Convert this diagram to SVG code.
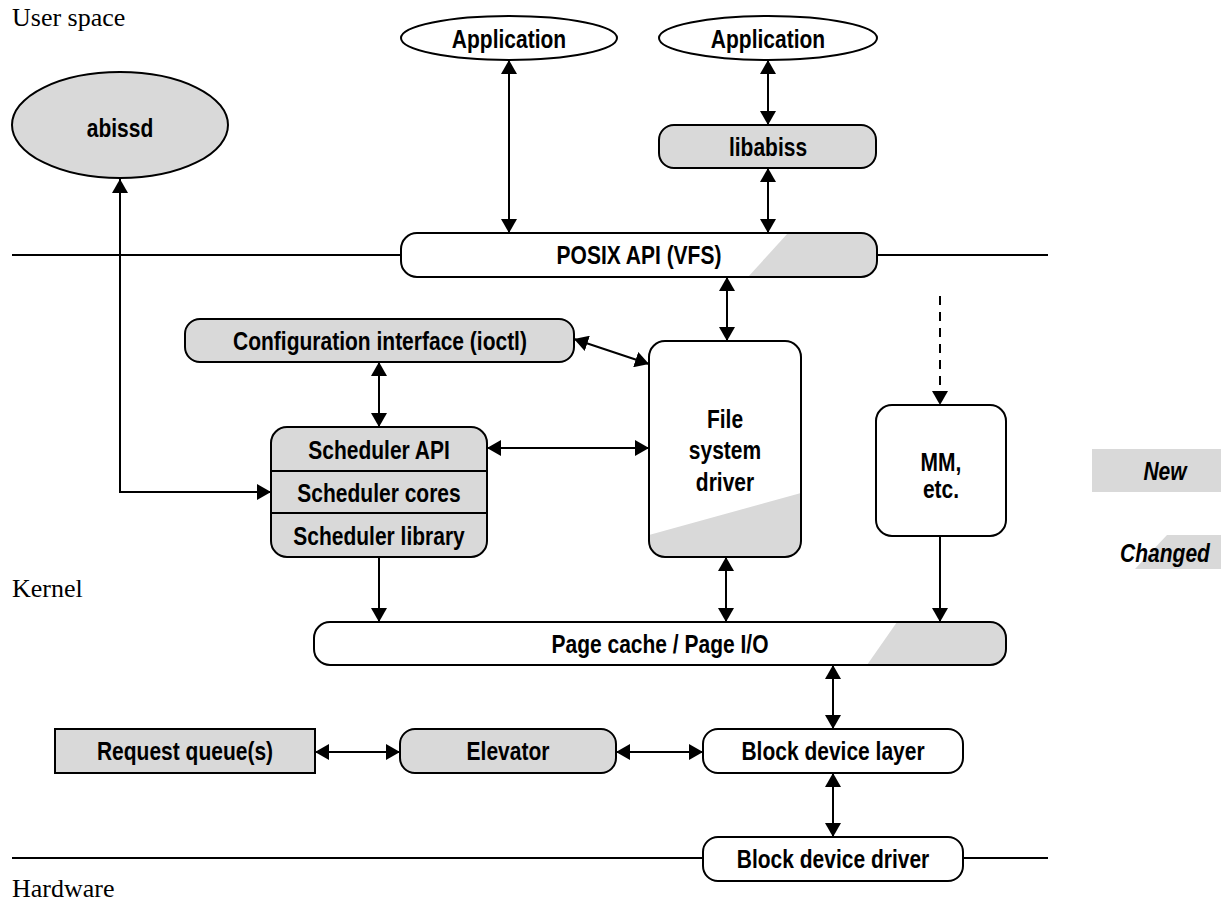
<svg xmlns="http://www.w3.org/2000/svg" width="1221" height="909" viewBox="0 0 1221 909">
<style>
.bx{stroke:#000;stroke-width:2;}
.w{fill:#fff;}
.g{fill:#d9d9d9;}
.t{font-family:"Liberation Sans",Arial,sans-serif;font-weight:bold;font-size:25px;text-anchor:middle;fill:#000;}
.ti{font-family:"Liberation Sans",Arial,sans-serif;font-weight:bold;font-style:italic;font-size:25px;text-anchor:middle;fill:#000;}
.s{font-family:"Liberation Serif","Times New Roman",serif;font-size:26px;fill:#000;}
.c{fill:none;stroke:#000;stroke-width:2;}
.sep{fill:none;stroke:#000;stroke-width:2;}
</style>
<defs>
<marker id="ah" viewBox="0 0 14 16" refX="14" refY="8" markerWidth="14" markerHeight="16" markerUnits="userSpaceOnUse" orient="auto-start-reverse">
<path d="M0,0 L14,8 L0,16 z" fill="#000"/>
</marker>
<clipPath id="cpPosix"><rect x="401" y="233" width="476" height="44" rx="16"/></clipPath>
<clipPath id="cpFs"><rect x="649" y="341" width="152" height="216" rx="16"/></clipPath>
<clipPath id="cpPage"><rect x="314" y="622" width="692" height="43" rx="16"/></clipPath>
</defs>

<!-- region labels and separators -->
<text class="s" x="12" y="26">User space</text>
<text class="s" x="12" y="597">Kernel</text>
<text class="s" x="12" y="897">Hardware</text>
<path class="sep" d="M12,255 H401 M877,255 H1048 M12,858 H703 M963,858 H1048"/>

<g id="connectors">
<path class="c" d="M120,179 V492 H271" marker-start="url(#ah)" marker-end="url(#ah)"/>
<path class="c" d="M509,60 V233" marker-start="url(#ah)" marker-end="url(#ah)"/>
<path class="c" d="M768,60 V125" marker-start="url(#ah)" marker-end="url(#ah)"/>
<path class="c" d="M768,168 V233" marker-start="url(#ah)" marker-end="url(#ah)"/>
<path class="c" d="M727,277 V341" marker-start="url(#ah)" marker-end="url(#ah)"/>
<path class="c" d="M574,339 L649,364" marker-start="url(#ah)" marker-end="url(#ah)"/>
<path class="c" d="M379,362 V427" marker-start="url(#ah)" marker-end="url(#ah)"/>
<path class="c" d="M487,448 H649" marker-start="url(#ah)" marker-end="url(#ah)"/>
<path class="c" d="M940,296 V405" stroke-dasharray="9,7" marker-end="url(#ah)"/>
<path class="c" d="M379,557 V622" marker-end="url(#ah)"/>
<path class="c" d="M726,557 V622" marker-start="url(#ah)" marker-end="url(#ah)"/>
<path class="c" d="M940,536 V622" marker-end="url(#ah)"/>
<path class="c" d="M833,665 V729" marker-start="url(#ah)" marker-end="url(#ah)"/>
<path class="c" d="M315,752 H400" marker-start="url(#ah)" marker-end="url(#ah)"/>
<path class="c" d="M616,752 H703" marker-start="url(#ah)" marker-end="url(#ah)"/>
<path class="c" d="M833,773 V837" marker-start="url(#ah)" marker-end="url(#ah)"/>
</g>

<g id="abissd">
<ellipse class="bx g" cx="120" cy="125" rx="108" ry="53"/>
<text class="t" transform="translate(120,137) scale(0.84,1)">abissd</text>
</g>

<g id="app1">
<ellipse class="bx w" cx="509" cy="38" rx="108" ry="22"/>
<text class="t" transform="translate(509,48) scale(0.84,1)">Application</text>
</g>

<g id="app2">
<ellipse class="bx w" cx="768" cy="38" rx="109" ry="22"/>
<text class="t" transform="translate(768,48) scale(0.84,1)">Application</text>
</g>

<g id="libabiss">
<rect class="bx g" x="659" y="125" width="217" height="43" rx="15"/>
<text class="t" transform="translate(768,156) scale(0.84,1)">libabiss</text>
</g>

<g id="posix">
<rect class="w" x="401" y="233" width="476" height="44" rx="16"/>
<polygon class="g" points="788,233 877,233 877,277 748,277" clip-path="url(#cpPosix)"/>
<rect class="bx" fill="none" x="401" y="233" width="476" height="44" rx="16"/>
<text class="t" transform="translate(639,264) scale(0.84,1)">POSIX API (VFS)</text>
</g>

<g id="config">
<rect class="bx g" x="185" y="319" width="389" height="43" rx="15"/>
<text class="t" transform="translate(380,350) scale(0.84,1)">Configuration interface (ioctl)</text>
</g>

<g id="scheduler">
<rect class="bx g" x="271" y="427" width="216" height="130" rx="16"/>
<path class="c" d="M271,471 H487 M271,513 H487"/>
<text class="t" transform="translate(379,459) scale(0.84,1)">Scheduler API</text>
<text class="t" transform="translate(379,502) scale(0.84,1)">Scheduler cores</text>
<text class="t" transform="translate(379,545) scale(0.84,1)">Scheduler library</text>
</g>

<g id="fsdriver">
<rect class="w" x="649" y="341" width="152" height="216" rx="16"/>
<polygon class="g" points="649,535 801,493 801,557 649,557" clip-path="url(#cpFs)"/>
<rect class="bx" fill="none" x="649" y="341" width="152" height="216" rx="16"/>
<text class="t" transform="translate(725,428) scale(0.84,1)">File</text>
<text class="t" transform="translate(725,459) scale(0.84,1)">system</text>
<text class="t" transform="translate(725,491) scale(0.84,1)">driver</text>
</g>

<g id="mm">
<rect class="bx w" x="876" y="405" width="130" height="131" rx="16"/>
<text class="t" transform="translate(941,471) scale(0.84,1)">MM,</text>
<text class="t" transform="translate(941,498) scale(0.84,1)">etc.</text>
</g>

<g id="legend-new">
<rect class="g" x="1092" y="449" width="129" height="43"/>
<text class="ti" transform="translate(1165,480) scale(0.84,1)">New</text>
</g>

<g id="legend-changed">
<polygon class="g" points="1167,535 1221,535 1221,569 1135,569"/>
<text class="ti" transform="translate(1165,562) scale(0.84,1)">Changed</text>
</g>

<g id="pagecache">
<rect class="w" x="314" y="622" width="692" height="43" rx="16"/>
<polygon class="g" points="897,622 1006,622 1006,665 867,665" clip-path="url(#cpPage)"/>
<rect class="bx" fill="none" x="314" y="622" width="692" height="43" rx="16"/>
<text class="t" transform="translate(660,653) scale(0.84,1)">Page cache / Page I/O</text>
</g>

<g id="requestqueue">
<rect class="bx g" x="55" y="729" width="260" height="44"/>
<text class="t" transform="translate(185,760) scale(0.84,1)">Request queue(s)</text>
</g>

<g id="elevator">
<rect class="bx g" x="400" y="729" width="216" height="44" rx="15"/>
<text class="t" transform="translate(508,760) scale(0.84,1)">Elevator</text>
</g>

<g id="blocklayer">
<rect class="bx w" x="703" y="729" width="260" height="44" rx="15"/>
<text class="t" transform="translate(833,760) scale(0.84,1)">Block device layer</text>
</g>

<g id="blockdriver">
<rect class="bx w" x="703" y="837" width="260" height="44" rx="15"/>
<text class="t" transform="translate(833,868) scale(0.84,1)">Block device driver</text>
</g>
</svg>
